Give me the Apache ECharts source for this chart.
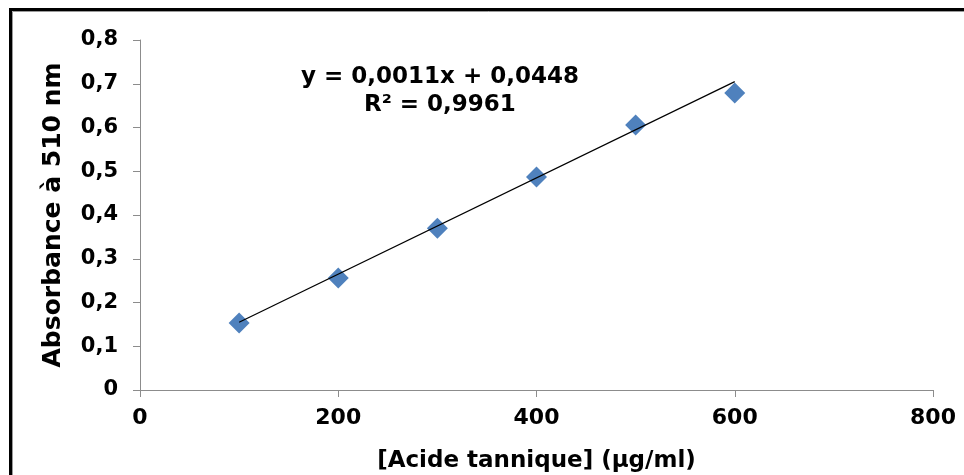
<!DOCTYPE html>
<html>
<head>
<meta charset="utf-8">
<script src="https://cdn.jsdelivr.net/npm/echarts@6/dist/echarts.min.js"></script>
<style>
  html, body { margin: 0; padding: 0; background: #ffffff; }
  #chart { width: 964px; height: 475px; }
</style>
</head>
<body>
<div id="chart"></div>
<script>
// ---- Data ----
const concentrations = [100, 200, 300, 400, 500, 600];       // µg/ml
const absorbance = [0.153, 0.256, 0.370, 0.487, 0.606, 0.679]; // A at 510 nm
const xTickValues = [0, 200, 400, 600, 800];
const yTickValues = [0, 0.1, 0.2, 0.3, 0.4, 0.5, 0.6, 0.7, 0.8];
const trendSlope = 0.0011;
const trendIntercept = 0.0448;
const equationLines = ['y = 0,0011x + 0,0448', 'R² = 0,9961'];
const xTitle = '[Acide tannique] (µg/ml)';
const yTitle = 'Absorbance à 510 nm';

const FONT = '"DejaVu Sans", "Liberation Sans", Arial, sans-serif';

const points = concentrations.map((c, i) => [c, absorbance[i]]);
const xFirst = Math.min.apply(null, concentrations);
const xLast = Math.max.apply(null, concentrations);
const trendData = [xFirst, xLast].map(x => [x, trendSlope * x + trendIntercept]);

function fmt(v) {
  if (v === 0) return '0';
  return String(Math.round(v * 10) / 10).replace('.', ',');
}

const chart = echarts.init(document.getElementById('chart'), null, { renderer: 'canvas' });
chart.setOption({
  backgroundColor: '#ffffff',
  animation: false,
  grid: { left: 140, right: 31, top: 40, bottom: 85, containLabel: false, outerBoundsMode: 'none' },
  xAxis: {
    type: 'value',
    min: xTickValues[0],
    max: xTickValues[xTickValues.length - 1],
    interval: 200,
    name: xTitle,
    nameLocation: 'middle',
    nameGap: 60,
    nameTextStyle: { fontFamily: FONT, fontWeight: 'bold', fontSize: 23, color: '#000' },
    axisLine: { show: true, onZero: false, lineStyle: { color: '#8c8c8c', width: 1 } },
    axisTick: { show: true, inside: false, length: 7, lineStyle: { color: '#8c8c8c' } },
    axisLabel: { fontFamily: FONT, fontWeight: 'bold', fontSize: 22, color: '#000', margin: 17, formatter: fmt },
    splitLine: { show: false }
  },
  yAxis: {
    type: 'value',
    min: yTickValues[0],
    max: yTickValues[yTickValues.length - 1],
    interval: 0.1,
    name: yTitle,
    nameLocation: 'middle',
    nameGap: 74,
    nameTextStyle: { fontFamily: FONT, fontWeight: 'bold', fontSize: 25, color: '#000' },
    axisLine: { show: true, onZero: false, lineStyle: { color: '#8c8c8c', width: 1 } },
    axisTick: { show: true, inside: false, length: 7, lineStyle: { color: '#8c8c8c' } },
    axisLabel: { fontFamily: FONT, fontWeight: 'bold', fontSize: 21, color: '#000', margin: 22, formatter: fmt },
    splitLine: { show: false }
  },
  series: [
    {
      type: 'scatter',
      data: points,
      symbol: 'diamond',
      symbolSize: [21, 21],
      itemStyle: { color: '#4F81BD', opacity: 1 },
      z: 2
    },
    {
      type: 'line',
      data: trendData,
      showSymbol: false,
      symbol: 'none',
      lineStyle: { color: '#000000', width: 1.2 },
      z: 3
    }
  ],
  graphic: [
    {
      type: 'rect',
      shape: { x: 10.5, y: 9.5, width: 1000, height: 600 },
      style: { fill: null, stroke: '#000', lineWidth: 3 },
      silent: true, z: 10
    },
    {
      type: 'rect',
      shape: { x: 12.5, y: 11.5, width: 1000, height: 600 },
      style: { fill: null, stroke: '#9a9a9a', lineWidth: 1 },
      silent: true, z: 10
    },
    {
      type: 'text',
      left: 301,
      top: 63,
      style: {
        text: equationLines.join('\n'),
        font: 'bold 23px ' + FONT,
        fill: '#000',
        textAlign: 'center',
        lineHeight: 28
      },
      silent: true, z: 10
    }
  ]
});
</script>
</body>
</html>
